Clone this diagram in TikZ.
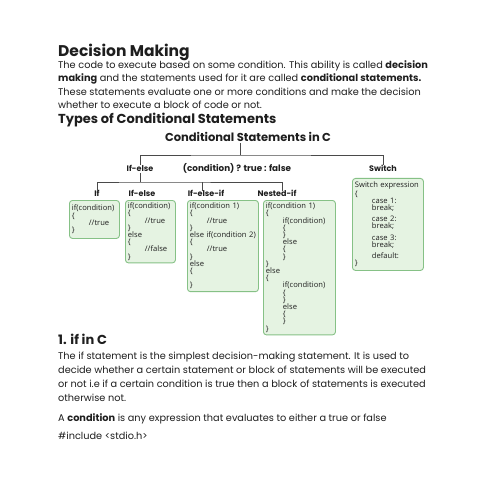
\documentclass[tikz,border=0pt]{standalone}
\usepackage{fontspec}
\setmainfont{Poppins}
\newfontfamily\hfont{Poppins}
\newfontfamily\boxfont{Open Sans}
\definecolor{boxfill}{HTML}{E5F3E2}
\definecolor{boxline}{HTML}{86C186}
\definecolor{txt}{HTML}{1E1E1E}
\definecolor{treeline}{HTML}{4A4A4A}
\begin{document}
\begin{tikzpicture}[x=1pt,y=-1pt,
  body/.style={anchor=base west,inner sep=0pt,font=\fontsize{9.75}{11}\selectfont,text=txt},
  head/.style={anchor=base west,inner sep=0pt,font=\hfont\bfseries\fontsize{13}{15}\selectfont,text=txt},
  lab/.style={inner sep=1.5pt,font=\hfont\bfseries\fontsize{8}{9}\selectfont,text=txt},
  cbox/.style={draw=boxline,fill=boxfill,line width=0.9pt,rounded corners=3pt,anchor=north west,
     inner xsep=2.5pt,inner ysep=2.5pt,align=left,font=\boxfont\fontsize{7.6}{7.2}\selectfont,text=txt},
  tree/.style={draw=treeline,line width=0.7pt}
]
\useasboundingbox (0,0) rectangle (494,494);
\fill[white] (0,0) rectangle (494,494);

% heading and first paragraph
\node[anchor=base west,inner sep=0pt,font=\hfont\bfseries\fontsize{15.5}{17}\selectfont,text=txt] (h1) at (58,57) {Decision Making};
\node[body] (p1) at (58,68.5) {The code to execute based on some condition. This ability is called \textbf{decision}};
\node[body] (p2) at (58,82) {\textbf{making} and the statements used for it are called \textbf{conditional statements.}};
\node[body] (p3) at (58,95.5) {These statements evaluate one or more conditions and make the decision};
\node[body] (p4) at (58,109) {whether to execute a block of code or not.};
\node[head] (h2) at (58,124) {Types of Conditional Statements};

% tree
\node[lab,font=\hfont\bfseries\fontsize{11.5}{13}\selectfont] (root) at (248,137) {Conditional Statements in C};
\node[lab] (l2a) at (140,168) {If-else};
\node[lab,font=\hfont\bfseries\fontsize{8.8}{10}\selectfont] (l2b) at (237,168) {(condition) ? true : false};
\node[lab] (l2c) at (383,168) {Switch};
\coordinate (j1) at (240,155);
\draw[tree] (j1 |- root.south) -- (j1);
\draw[tree] ([yshift=-2pt]l2a.north) |- (j1) -| ([yshift=-2pt]l2c.north);

\node[lab] (l3a) at (97,193) {If};
\node[lab] (l3b) at (142,193) {If-else};
\node[lab] (l3c) at (206,193) {If-else-if};
\node[lab] (l3d) at (277,193) {Nested-if};
\coordinate (j2) at (140,182);
\draw[tree] (l2a.south) -- (j2);
\draw[tree] ([yshift=-3pt]l3a.north) |- (j2) -| ([xshift=5pt,yshift=-3pt]l3d.north);
\draw[tree] ([xshift=-4pt,yshift=-3pt]l3c.north) -- ([xshift=-4pt]l3c.north |- j2);

% boxes
\node[cbox,text width=45pt,minimum height=38pt] (bif) at (69,200) {if(condition)\\\{\\\hspace*{17pt}//true\\\}};
\node[cbox,text width=45pt,minimum height=56pt] (bifelse) at (125,200) {if(condition)\\\{\\\hspace*{17pt}//true\\\}\\else\\\{\\\hspace*{17pt}//false\\\}};
\node[cbox,text width=66pt,minimum height=84pt] (belif) at (187,200) {if(condition 1)\\\{\\\hspace*{17pt}//true\\\}\\else if(condition 2)\\\{\\\hspace*{17pt}//true\\\}\\else\\\{\\[7.2pt]\}};
\node[cbox,text width=67pt,minimum height=124pt] (bnest) at (263,200) {if(condition 1)\\\{\\\hspace*{17pt}if(condition)\\\hspace*{17pt}\{\\\hspace*{17pt}\}\\\hspace*{17pt}else\\\hspace*{17pt}\{\\\hspace*{17pt}\}\\\}\\else\\\{\\\hspace*{17pt}if(condition)\\\hspace*{17pt}\{\\\hspace*{17pt}\}\\\hspace*{17pt}else\\\hspace*{17pt}\{\\\hspace*{17pt}\}\\\}};
\node[cbox,text width=66pt,minimum height=92pt] (bsw) at (352,178) {Switch expression\\\{\\\hspace*{17pt}case 1:\\\hspace*{17pt}break;\\[4pt]\hspace*{17pt}case 2:\\\hspace*{17pt}break;\\[4pt]\hspace*{17pt}case 3:\\\hspace*{17pt}break;\\[4pt]\hspace*{17pt}default:\\\}};

% second section
\node[head] (h3) at (58,344) {1. if in C};
\node[body] (q1) at (58,359) {The if statement is the simplest decision-making statement. It is used to};
\node[body] (q2) at (58,373) {decide whether a certain statement or block of statements will be executed};
\node[body] (q3) at (58,387) {or not i.e if a certain condition is true then a block of statements is executed};
\node[body] (q4) at (58,401) {otherwise not.};
\node[body] (q5) at (58,421) {A \textbf{condition} is any expression that evaluates to either a true or false};
\node[body] (q6) at (58,439) {\#include <stdio.h>};
\end{tikzpicture}
\end{document}
